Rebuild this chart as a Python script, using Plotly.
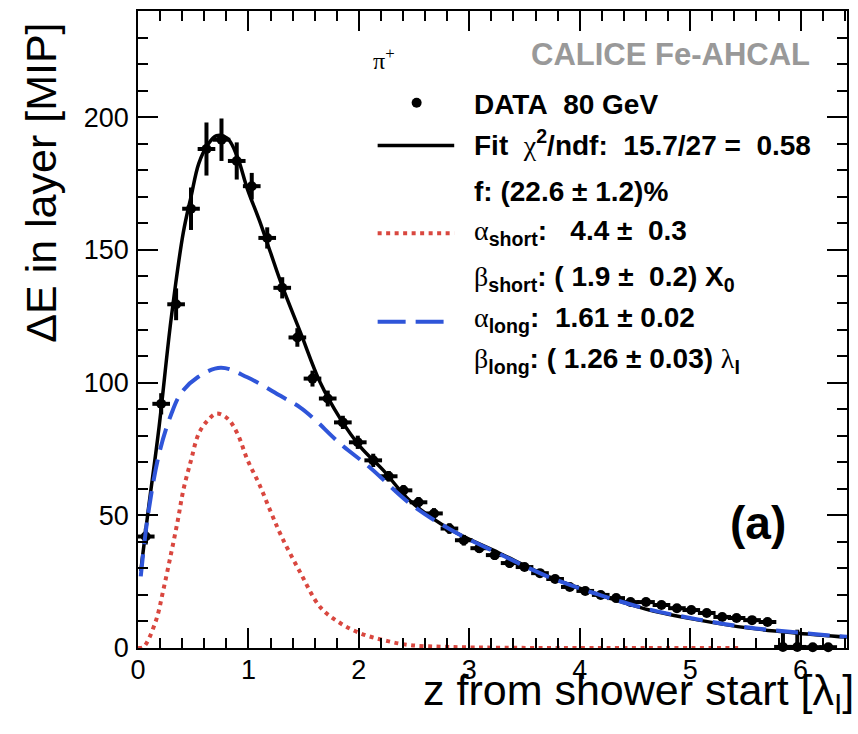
import plotly.graph_objects as go

# measured layers: z from shower start [lambda_I], energy in layer [MIP]
z_data = [0.07, 0.21, 0.345, 0.48, 0.62, 0.756, 0.894, 1.03, 1.17, 1.306,
          1.443, 1.58, 1.718, 1.855, 1.99, 2.13, 2.27, 2.404, 2.54, 2.68,
          2.82, 2.95, 3.09, 3.23, 3.365, 3.50, 3.64, 3.777, 3.91, 4.05,
          4.19, 4.33, 4.46, 4.60, 4.74, 4.88, 5.01, 5.15, 5.29, 5.42,
          5.56, 5.70, 5.84, 5.97, 6.11, 6.25]
e_data = [42, 92, 129.5, 165.5, 188, 191.5, 183.5, 174, 154.5, 135.7,
          117, 101.5, 94, 85, 77.5, 70.7, 64.7, 59.4, 54.9, 50.7,
          45, 40.6, 37.6, 35, 32, 30.5, 28.2, 26, 23, 21.5,
          20, 18.8, 17.3, 17.3, 16.2, 15, 14.3, 13.2, 11.7, 11.3,
          10.5, 9.8, 0.4, 0.4, 0.3, 0.3]
e_err = [3, 4, 6, 8, 10, 8, 7, 5, 4, 4,
         3.5, 3, 3, 2.5, 2.5, 2.5, 2, 2, 2, 2,
         2, 2, 1.8, 1.8, 1.8, 1.5, 1.5, 1.5, 1.5, 1.5,
         1.5, 1.5, 1.5, 1.5, 1.5, 1.5, 1.5, 1.5, 1.5, 1.5,
         1.5, 1.5, 5.2, 6.5, 0, 0]
z_halfwidth = 0.08

# fit curves
z_fit = [0.025, 0.09, 0.19, 0.30, 0.41, 0.48, 0.55, 0.63, 0.71, 0.81,
         0.90, 0.99, 1.10, 1.20, 1.30, 1.47, 1.65, 1.83, 2.01, 2.22,
         2.46, 2.82, 3.27, 3.73, 4.18, 4.63, 5.08, 5.53, 5.98, 6.42]
e_fit = [29, 51, 83, 124, 156.5, 170, 182.5, 189.5, 193, 192,
         185, 173, 161, 149, 137, 119, 100, 86.5, 76, 67,
         55.6, 44.8, 35.8, 26.7, 20, 14.3, 10.5, 7.5, 5.6, 4.1]

z_short = [0.0, 0.05, 0.16, 0.23, 0.30, 0.36, 0.41, 0.48, 0.55, 0.63,
           0.71, 0.81, 0.90, 0.99, 1.10, 1.20, 1.30, 1.47, 1.65, 1.83,
           2.01, 2.22, 2.46, 2.82, 3.3, 4.0, 5.45]
e_short = [0, 0.4, 10, 22, 35.7, 48, 59.4, 70.7, 80.8, 85.7,
           88.3, 86.5, 80.8, 71, 61.5, 51.5, 42, 28.4, 15.4, 9.4,
           5.6, 3, 1.1, 0.4, 0.1, 0, 0]

z_long = [0.025, 0.09, 0.19, 0.30, 0.39, 0.54, 0.75, 0.99, 1.29, 1.47,
          1.59, 1.83, 2.10, 2.46, 2.82, 3.27, 3.73, 4.18, 4.63, 5.08,
          5.53, 5.98, 6.42]
e_long = [27, 50, 73, 88, 96, 102, 105.6, 102, 95, 90.6,
          86.5, 77, 68, 54.5, 44.8, 35.5, 26.6, 20, 14.5, 10.7,
          7.7, 5.8, 4.2]

RED = '#d9473f'
BLUE = '#2f55d9'
SANS = 'Liberation Sans'
SERIF = 'Liberation Serif'


def greek(ch):
    return f"<span style=\"font-family:'{SERIF}';font-weight:normal\">{ch}</span>"


data = [
    go.Scatter(x=z_data, y=e_data, mode='markers',
               marker=dict(color='black', size=10),
               error_y=dict(type='data', array=e_err, color='black',
                            thickness=4, width=0),
               error_x=dict(type='constant', value=z_halfwidth, color='black',
                            thickness=4, width=0),
               cliponaxis=False),
    go.Scatter(x=z_fit, y=e_fit, mode='lines', line_shape='spline',
               line=dict(color='black', width=3.5)),
    go.Scatter(x=z_short, y=e_short, mode='lines', line_shape='spline',
               line=dict(color=RED, width=4, dash='4px,4.5px')),
    go.Scatter(x=z_long, y=e_long, mode='lines', line_shape='spline',
               line=dict(color=BLUE, width=4, dash='22px,10px')),
]

axis_common = dict(ticks='inside', ticklen=20, tickwidth=1.5, tickcolor='black',
                   showline=True, linecolor='black', linewidth=1.5,
                   mirror='ticks', showgrid=False, zeroline=False,
                   tickfont=dict(size=27))

layout = go.Layout(
    width=858, height=734,
    margin=dict(l=138, r=9, t=9, b=86),
    paper_bgcolor='white', plot_bgcolor='white',
    showlegend=False,
    font=dict(family=SANS, color='black'),
    xaxis=dict(range=[0, 6.42], tick0=0, dtick=1, ticklabelstandoff=-3,
               minor=dict(dtick=0.2, ticklen=10, ticks='inside',
                          tickcolor='black', tickwidth=1.5),
               **axis_common),
    yaxis=dict(range=[0, 240], tick0=0, dtick=50, ticklabelstandoff=2,
               minor=dict(dtick=10, ticklen=10, ticks='inside',
                          tickcolor='black', tickwidth=1.5),
               **axis_common),
)

fig = go.Figure(data=data, layout=layout)

# axis titles, ROOT style (aligned to the axis ends)
fig.add_annotation(text='z from shower start [λ<sub>I</sub>]',
                   xref='paper', yref='paper', x=1.012, y=-0.071,
                   xanchor='right', yanchor='middle', showarrow=False,
                   font=dict(size=43))
fig.add_annotation(text='ΔE in layer [MIP]', textangle=-90,
                   xref='paper', yref='paper', x=-0.138, y=0.985,
                   xanchor='center', yanchor='top', showarrow=False,
                   font=dict(size=43))

fig.add_annotation(text='CALICE Fe-AHCAL', xref='paper', yref='paper',
                   x=0.951, y=0.931, xanchor='right', yanchor='middle',
                   showarrow=False,
                   font=dict(size=31, color='#999999', family=SANS, weight='bold'))
fig.add_annotation(text='π<sup>+</sup>', xref='paper', yref='paper',
                   x=0.328, y=0.925, xanchor='left', yanchor='middle',
                   showarrow=False, font=dict(size=24, family=SERIF))
fig.add_annotation(text='<b>(a)</b>', xref='paper', yref='paper',
                   x=0.875, y=0.197, xanchor='center', yanchor='middle',
                   showarrow=False, font=dict(size=46))

# legend block
sp = '\u00a0'
rows = [
    (0.853, f'<b>DATA{sp}{sp}80 GeV</b>'),
    (0.793, f'<b>Fit{sp}{sp}</b>{greek("χ")}<b><sup>2</sup>/ndf:{sp}{sp}15.7/27 ={sp}{sp}0.58</b>'),
    (0.717, '<b>f: (22.6 ± 1.2)%</b>'),
    (0.652, f'{greek("α")}<b><sub>short</sub>:{sp}{sp}{sp}4.4 ±{sp}{sp}0.3</b>'),
    (0.580, f'{greek("β")}<b><sub>short</sub>: ( 1.9 ±{sp}{sp}0.2) X<sub>0</sub></b>'),
    (0.515, f'{greek("α")}<b><sub>long</sub>:{sp}{sp}1.61 ± 0.02</b>'),
    (0.452, f'{greek("β")}<b><sub>long</sub>: ( 1.26 ± 0.03) </b>{greek("λ")}<b><sub>I</sub></b>'),
]
for y, txt in rows:
    fig.add_annotation(text=txt, xref='paper', yref='paper', x=0.4704, y=y,
                       xanchor='left', yanchor='middle', showarrow=False,
                       font=dict(size=28))

# legend samples
fig.add_shape(type='circle', xref='paper', yref='paper',
              xsizemode='pixel', ysizemode='pixel', xanchor=0.393, yanchor=0.856,
              x0=-5, x1=5, y0=-5, y1=5, fillcolor='black', line=dict(width=0))
fig.add_shape(type='line', xref='paper', yref='paper',
              x0=0.338, x1=0.446, y0=0.789, y1=0.789,
              line=dict(color='black', width=3.5))
fig.add_shape(type='line', xref='paper', yref='paper',
              x0=0.338, x1=0.446, y0=0.651, y1=0.651,
              line=dict(color=RED, width=4, dash='4px,4.5px'))
fig.add_shape(type='line', xref='paper', yref='paper',
              x0=0.338, x1=0.431, y0=0.512, y1=0.512,
              line=dict(color=BLUE, width=4, dash='28px,10px'))

fig.write_html('out.html', config={'displayModeBar': False},
               post_script="document.body.style.margin='0';")
